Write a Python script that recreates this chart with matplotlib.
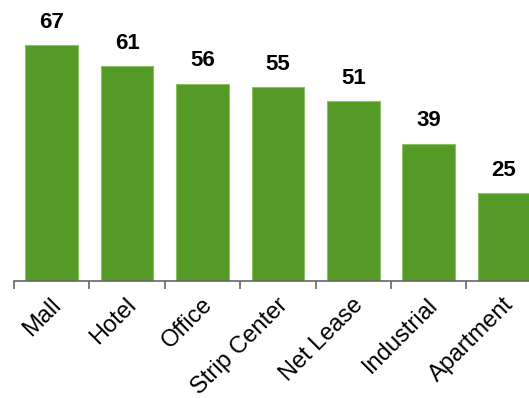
import matplotlib.pyplot as plt

categories = ["Mall", "Hotel", "Office", "Strip Center", "Net Lease", "Industrial", "Apartment"]
values = [67, 61, 56, 55, 51, 39, 25]

plt.rcParams['font.family'] = ['Liberation Sans', 'DejaVu Sans']

fig = plt.figure(figsize=(5.29, 3.98), dpi=100)
ax = fig.add_axes([14 / 529, 117 / 398, 1 - 14 / 529, 281 / 398])

x = list(range(len(categories)))
bars = ax.bar(x, values, width=0.70, color='#559926', edgecolor='#8cc063', linewidth=0.8)

for xi, v in zip(x, values):
    ax.annotate(str(v), (xi, v), xytext=(0, 9), textcoords='offset points',
                ha='center', va='bottom', fontsize=16, fontweight='bold')

ax.set_xlim(-0.5, -0.5 + 515 / 75.4)
ax.set_ylim(0, 281 / 3.52)

for s in ['top', 'right', 'left']:
    ax.spines[s].set_visible(False)
ax.spines['bottom'].set_color('#666666')
ax.spines['bottom'].set_linewidth(1.2)
ax.set_yticks([])

# tick marks sit between the bars
ax.set_xticks([i - 0.5 for i in range(len(categories))])
ax.set_xticklabels([])
ax.tick_params(axis='x', length=6, width=1.2, color='#666666')

for xi, name in zip(x, categories):
    ax.text(xi - 0.02, -3.6, name, rotation=45, ha='right', va='top',
            rotation_mode='anchor', fontsize=17)

fig.savefig('out.png', dpi=100)
